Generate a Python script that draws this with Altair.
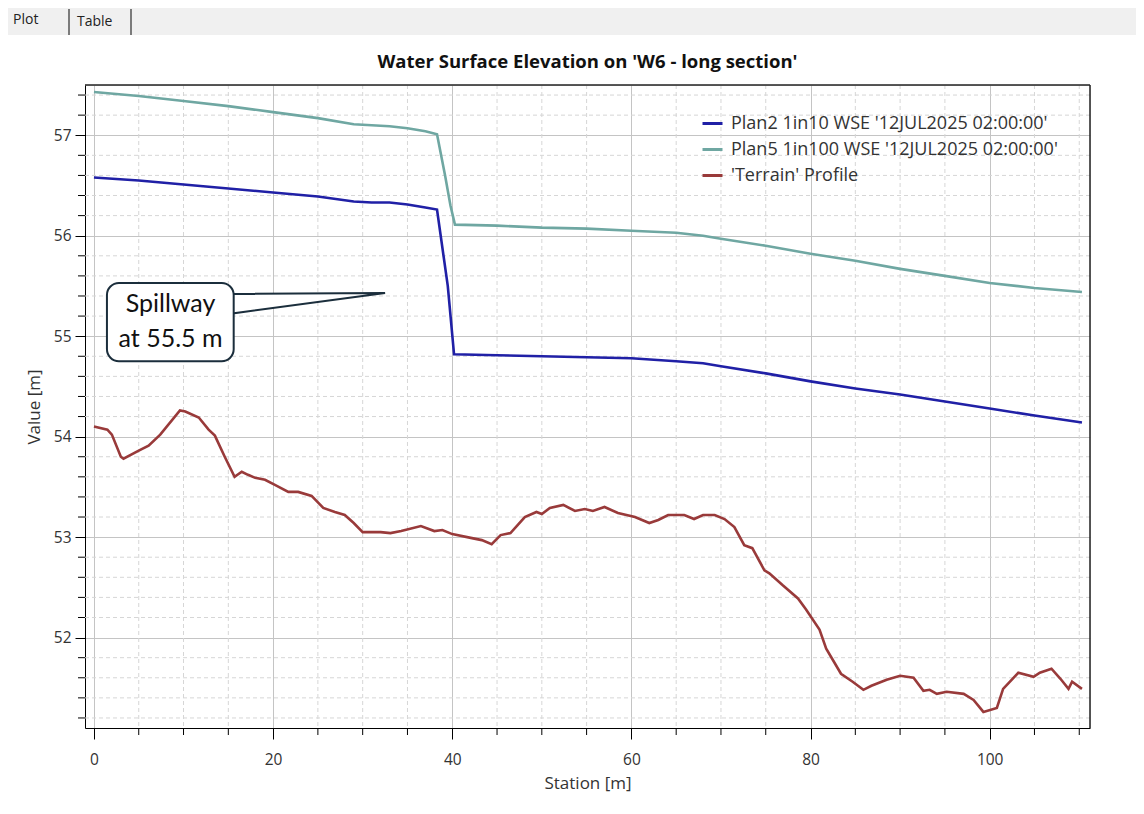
import altair as alt
import pandas as pd

# ---------------- data ----------------
S1 = "Plan2 1in10 WSE '12JUL2025 02:00:00'"
S2 = "Plan5 1in100 WSE '12JUL2025 02:00:00'"
S3 = "'Terrain' Profile"
TITLE = "Water Surface Elevation on 'W6 - long section'"

plan2_station = [0, 5, 10, 15, 20, 25, 29, 31, 33, 35, 37, 38.3, 39.5, 40.2, 45, 50, 55, 60, 65, 68, 70, 75, 80, 85, 90, 95, 100, 105, 110.3]
plan2_wse = [56.58, 56.55, 56.51, 56.47, 56.43, 56.39, 56.34, 56.33, 56.33, 56.31, 56.28, 56.26, 55.5, 54.82, 54.81, 54.80, 54.79, 54.78, 54.75, 54.73, 54.70, 54.63, 54.55, 54.48, 54.42, 54.35, 54.28, 54.21, 54.14]

plan5_station = [0, 5, 10, 15, 20, 25, 29, 31, 33, 35, 37, 38.3, 39.2, 39.8, 40.3, 45, 50, 55, 60, 65, 68, 70, 75, 80, 85, 90, 95, 100, 105, 110.3]
plan5_wse = [57.43, 57.39, 57.34, 57.29, 57.23, 57.17, 57.11, 57.10, 57.09, 57.07, 57.04, 57.01, 56.6, 56.3, 56.11, 56.10, 56.08, 56.07, 56.05, 56.03, 56.00, 55.97, 55.90, 55.82, 55.75, 55.67, 55.60, 55.53, 55.48, 55.44]

terrain_station = [0, 1.5, 2.0, 3.0, 3.3, 5.0, 6.1, 7.4, 9.6, 10.2, 11.7, 12.8, 13.5, 14.6, 15.7, 16.5, 17.2, 18.0, 19.1, 20.2, 21.7, 22.8, 24.3, 25.6, 26.9, 28.0, 29.0, 30.0, 32.0, 33.1, 34.3, 36.5, 38.0, 38.9, 40.0, 42.2, 43.3, 44.4, 45.4, 46.5, 48.1, 49.4, 50.0, 50.9, 52.4, 53.7, 54.8, 55.7, 57.0, 58.5, 60.4, 62.0, 63.0, 64.1, 65.9, 67.0, 68.0, 69.3, 70.4, 71.5, 72.6, 73.5, 74.85, 75.4, 76.9, 78.6, 79.5, 81.0, 81.75, 83.4, 84.7, 85.9, 86.8, 88.5, 90.0, 91.5, 92.6, 93.3, 94.1, 95.2, 97.1, 98.2, 99.3, 100.8, 101.5, 103.2, 104.9, 105.6, 106.9, 107.9, 108.8, 109.2, 110.3]
terrain_elev = [54.10, 54.07, 54.02, 53.80, 53.78, 53.86, 53.91, 54.02, 54.26, 54.25, 54.19, 54.07, 54.01, 53.80, 53.60, 53.65, 53.62, 53.59, 53.57, 53.52, 53.45, 53.45, 53.41, 53.29, 53.25, 53.22, 53.14, 53.05, 53.05, 53.04, 53.06, 53.11, 53.06, 53.07, 53.03, 52.99, 52.97, 52.93, 53.02, 53.04, 53.20, 53.25, 53.23, 53.29, 53.32, 53.26, 53.28, 53.26, 53.30, 53.24, 53.20, 53.14, 53.17, 53.22, 53.22, 53.18, 53.22, 53.22, 53.18, 53.10, 52.92, 52.89, 52.67, 52.64, 52.52, 52.39, 52.28, 52.08, 51.89, 51.64, 51.56, 51.48, 51.52, 51.58, 51.62, 51.60, 51.47, 51.48, 51.44, 51.46, 51.44, 51.38, 51.26, 51.30, 51.49, 51.65, 51.61, 51.65, 51.69, 51.59, 51.49, 51.56, 51.49]

x_major = [0, 20, 40, 60, 80, 100]
x_minor = [5, 10, 15, 25, 30, 35, 45, 50, 55, 65, 70, 75, 85, 90, 95, 105, 110]
y_major = [52, 53, 54, 55, 56, 57]
y_minor = [51.2, 51.4, 51.6, 51.8, 52.2, 52.4, 52.6, 52.8, 53.2, 53.4, 53.6, 53.8,
           54.2, 54.4, 54.6, 54.8, 55.2, 55.4, 55.6, 55.8, 56.2, 56.4, 56.6, 56.8, 57.2, 57.4]

callout_lines = ["Spillway", "at 55.5 m"]
callout_text_x = [8.55, 8.55]
callout_text_y = [55.32, 54.97]
box_x = [1.45]
box_x2 = [15.6]
box_y = [55.53]
box_y2 = [54.75]
pointer_x = [15.0, 32.5]
pointer_top = [55.42, 55.43]
pointer_bottom = [55.22, 55.43]

series_names = [S1, S2, S3]
series_colors = ["#2020a6", "#6fa7a2", "#993a3a"]

# ---------------- tables ----------------
rows = []
for s, xs, ys in [(S3, terrain_station, terrain_elev), (S2, plan5_station, plan5_wse), (S1, plan2_station, plan2_wse)]:
    for a, b in zip(xs, ys):
        rows.append({"station": a, "value": b, "series": s})
lines_df = pd.DataFrame(rows)

FONT = "Open Sans"
W, H = 1005, 643
xscale = alt.Scale(domain=[-1.0, 111.2], nice=False, zero=False)
yscale = alt.Scale(domain=[51.1, 57.5], nice=False, zero=False)

xaxis = alt.Axis(values=x_major, title="Station [m]", tickSize=11, tickColor="black",
                 domainColor="black", labelFontSize=15.5, labelColor="#333333", labelFont=FONT,
                 labelPadding=13, titleFont=FONT, titleFontSize=17, titleFontWeight="normal",
                 titleColor="#333333", titlePadding=8, grid=True, gridColor="#c4c4c4",
                 labelFlush=False)
yaxis = alt.Axis(values=y_major, title="Value [m]", tickSize=10, tickColor="black",
                 domainColor="black", labelFontSize=15.5, labelColor="#333333", labelFont=FONT,
                 labelPadding=4, titleFont=FONT, titleFontSize=17, titleFontWeight="normal",
                 titleColor="#333333", titlePadding=10, grid=True, gridColor="#c4c4c4",
                 labelFlush=False)


def X(field):
    return alt.X(field, scale=xscale, axis=xaxis)


def Y(field):
    return alt.Y(field, scale=yscale, axis=yaxis)


xminor_df = pd.DataFrame({"v": x_minor})
yminor_df = pd.DataFrame({"v": y_minor})

xgrid_minor = alt.Chart(xminor_df).mark_rule(color="#d6d6d6", strokeDash=[4, 3], strokeWidth=1).encode(
    x=X("v:Q"))
ygrid_minor = alt.Chart(yminor_df).mark_rule(color="#d6d6d6", strokeDash=[4, 3], strokeWidth=1).encode(
    y=Y("v:Q"))
xtick_minor = alt.Chart(xminor_df).mark_rule(color="black", strokeWidth=1).encode(
    x=X("v:Q"), y=alt.value(H), y2=alt.value(H + 7))
ytick_minor = alt.Chart(yminor_df).mark_rule(color="black", strokeWidth=1).encode(
    y=Y("v:Q"), x=alt.value(0), x2=alt.value(-7))

lines = alt.Chart(lines_df).mark_line(strokeWidth=2.6, clip=True).encode(
    x=X("station:Q"),
    y=Y("value:Q"),
    color=alt.Color("series:N", scale=alt.Scale(domain=series_names, range=series_colors),
                    legend=alt.Legend(title=None, orient="none", legendX=616, legendY=27,
                                      symbolType="stroke", symbolStrokeWidth=3, symbolSize=400,
                                      labelFont=FONT, labelFontSize=18, labelColor="#333333",
                                      rowPadding=5, labelOffset=7, labelLimit=500)),
    detail="series:N",
)

# callout
ptr_df = pd.DataFrame({"x": pointer_x, "y": pointer_top, "y2": pointer_bottom})
pointer = alt.Chart(ptr_df).mark_area(fill="white", stroke="#1b2e3c", strokeWidth=2, strokeJoin="miter").encode(
    x=X("x:Q"), y=Y("y:Q"), y2="y2:Q")
box_df = pd.DataFrame({"x": box_x, "x2": box_x2, "y": box_y, "y2": box_y2})
box = alt.Chart(box_df).mark_rect(fill="white", stroke="#1b2e3c", strokeWidth=2, cornerRadius=12).encode(
    x=X("x:Q"), x2="x2:Q", y=Y("y:Q"), y2="y2:Q")
txt_df = pd.DataFrame({"x": callout_text_x, "y": callout_text_y, "t": callout_lines})
callout_text = alt.Chart(txt_df).mark_text(font="Lato", fontSize=25, color="#111111", align="center",
                                           baseline="middle").encode(
    x=X("x:Q"), y=Y("y:Q"), text="t:N")

# chart title, plot frame and window tab strip
one = pd.DataFrame({"a": [0]})
title_mark = alt.Chart(one).mark_text(text=TITLE, font=FONT, fontSize=18.5, fontWeight="bold",
                                      color="#111111", align="center", baseline="middle").encode(
    x=alt.value(W / 2), y=alt.value(-23))
frame_top = alt.Chart(one).mark_rule(color="#222222", strokeWidth=1.5).encode(
    x=alt.value(0), x2=alt.value(W), y=alt.value(0))
frame_right = alt.Chart(one).mark_rule(color="#222222", strokeWidth=1.5).encode(
    x=alt.value(W), y=alt.value(0), y2=alt.value(H))
strip = alt.Chart(one).mark_rect(color="#f0f0f0").encode(
    x=alt.value(-77), x2=alt.value(1051), y=alt.value(-77), y2=alt.value(-50))
tab_plot = alt.Chart(one).mark_text(text="Plot", font=FONT, fontSize=14, color="#222222",
                                    align="left", baseline="middle").encode(
    x=alt.value(-72), y=alt.value(-65))
tab_table = alt.Chart(one).mark_text(text="Table", font=FONT, fontSize=14, color="#222222",
                                     align="left", baseline="middle").encode(
    x=alt.value(-8), y=alt.value(-63))
tab_l = alt.Chart(one).mark_rule(color="#555555", strokeWidth=1.5).encode(
    x=alt.value(-16), y=alt.value(-76), y2=alt.value(-50))
tab_r = alt.Chart(one).mark_rule(color="#555555", strokeWidth=1.5).encode(
    x=alt.value(46), y=alt.value(-76), y2=alt.value(-50))

chart = alt.layer(
    xgrid_minor, ygrid_minor, lines, xtick_minor, ytick_minor, frame_top, frame_right,
    pointer, box, callout_text, title_mark, strip, tab_plot, tab_table, tab_l, tab_r
).properties(
    width=W, height=H,
    padding={"left": 77, "top": 77, "right": 46, "bottom": 78},
    autosize=alt.AutoSizeParams(type="none"),
).configure_view(stroke="black", strokeWidth=1.2).configure(background="white")

chart.save("out.html", embed_options={"renderer": "svg", "actions": False})
